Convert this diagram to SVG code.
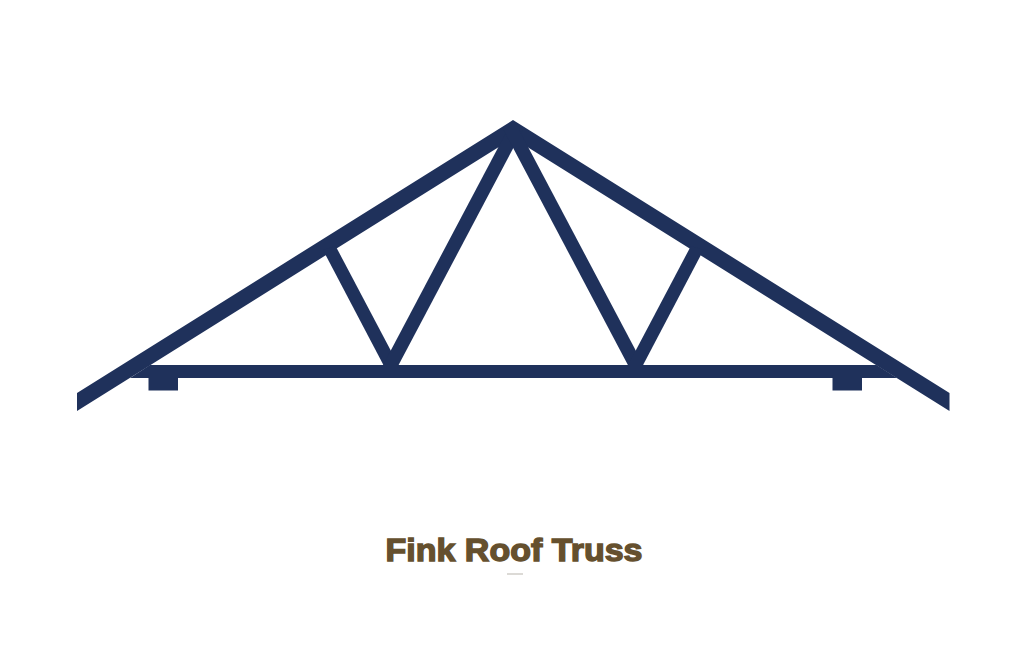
<svg xmlns="http://www.w3.org/2000/svg" width="1028" height="667" viewBox="0 0 1028 667">
<style>
.m{fill:#1f315b}
.t{font-family:"Liberation Sans",Arial,sans-serif;font-weight:700;font-size:32px;fill:#65502e;stroke:#65502e;stroke-width:1.4px}
</style>
<rect width="1028" height="667" fill="#fff"/>
<g id="truss">
<polygon id="rafters" class="m" points="77,393 513,120 949.500,393 949.500,411 513,138 77,411"/>
<polygon id="chord" class="m" points="150,365 876.500,365 897,378 130,378"/>
<rect id="bearing-left" class="m" x="148.500" y="375" width="29.500" height="15.500"/>
<rect id="bearing-right" class="m" x="832.500" y="375" width="29.500" height="15.500"/>
<polygon id="web-1" class="m" points="323,250 335.600,246 400,368 385,368"/>
<polygon id="web-2" class="m" points="507.400,130 522.800,130 397,368 381.500,368"/>
<polygon id="web-3" class="m" points="519.100,130 503.700,130 629.500,368 645,368"/>
<polygon id="web-4" class="m" points="703.500,250 690.900,246 626.500,368 641.500,368"/>
</g>
<text class="t" x="514" y="561" text-anchor="middle" textLength="257" lengthAdjust="spacingAndGlyphs">Fink Roof Truss</text>
<rect x="507" y="573.500" width="16" height="1" fill="#b9b5ad"/>
</svg>
